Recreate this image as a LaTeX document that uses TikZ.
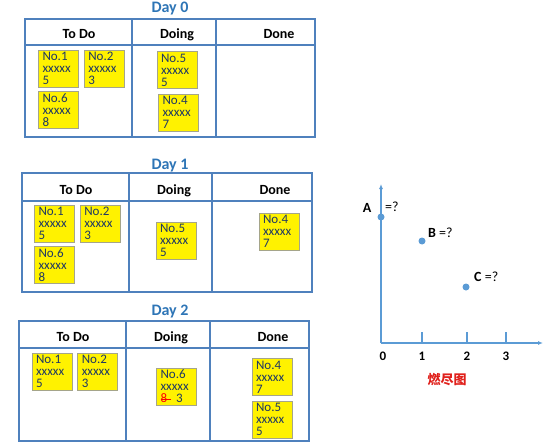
\documentclass[tikz,border=0pt]{standalone}
\usepackage{fontspec}
\setmainfont{Carlito}
\newfontfamily\cjk{Noto Sans CJK SC}
\usetikzlibrary{arrows.meta, positioning, calc}
\definecolor{boardblue}{HTML}{4F81BD}
\definecolor{titleblue}{HTML}{2E75B6}
\definecolor{dotblue}{HTML}{5B9BD5}
\definecolor{cardtext}{HTML}{1F3864}
\definecolor{cardedge}{HTML}{A5A58A}
\definecolor{chartred}{HTML}{E0201B}
\newcommand{\crossed}[1]{\leavevmode{\color{red}\rlap{\rule[0.28em]{0.8em}{0.7pt}}#1}}
\tikzset{
  board/.style={draw=boardblue, line width=1.6pt},
  daytitle/.style={font=\fontsize{16}{18}\selectfont\bfseries, text=titleblue,
    inner sep=0pt, anchor=base},
  colhead/.style={font=\fontsize{14}{16}\selectfont\bfseries, inner sep=0pt, anchor=base},
  card/.style={
    rectangle, draw=cardedge, line width=0.8pt, fill=yellow,
    minimum width=40pt, minimum height=37pt,
    text width=32pt, inner xsep=4pt, inner ysep=0pt,
    align=left, text=cardtext, font=\fontsize{13}{12}\selectfont
  },
  axis/.style={draw=dotblue, line width=1.4pt, -{Latex[length=5pt,width=4pt]}},
  axtick/.style={draw=dotblue, line width=1.4pt},
  dot/.style={circle, fill=dotblue, minimum size=7pt, inner sep=0pt},
  ptlabel/.style={font=\fontsize{14}{16}\selectfont, inner sep=0pt},
  axnum/.style={font=\fontsize{13}{15}\selectfont\bfseries, inner sep=0pt}
}
\begin{document}
\begin{tikzpicture}[x=1pt, y=-1pt]
\useasboundingbox (0,0) rectangle (554,444);

% boards
\foreach \d/\l/\t/\r/\b/\h/\ca/\cb/\ty in {0/25/19/315/137/45/132/216/12.5,
    1/22/173/312/292/201/129/212/169, 2/19/321/309/441/348/126/210/315} {
  \draw[board] (\l,\t) rectangle (\r,\b);
  \draw[board] (\l,\h) -- (\r,\h);
  \draw[board] (\ca,\t) -- (\ca,\b);
  \draw[board] (\cb,\t) -- (\cb,\b);
  \node[daytitle] (title\d) at (170,\ty) {Day \d};
  \node[colhead] (todo\d) at (\l+54,\h-6.5) {To Do};
  \node[colhead] (doing\d) at (\ca+45,\h-6.5) {Doing};
  \node[colhead] (done\d) at (\cb+63,\h-6.5) {Done};
}

% Day 0
\node[card] (c0n1) at (58.5,68.5) {No.1\\xxxxx\\5};
\node[card, right=5pt of c0n1] (c0n2) {No.2\\xxxxx\\3};
\node[card, below=4pt of c0n1] (c0n6) {No.6\\xxxxx\\8};
\node[card] (c0n5) at (177,70) {No.5\\xxxxx\\5};
\node[card, below=5pt of c0n5, xshift=1.5pt] (c0n4) {No.4\\xxxxx\\7};

% Day 1
\node[card] (c1n1) at (54.5,223.5) {No.1\\xxxxx\\5};
\node[card, right=5pt of c1n1] (c1n2) {No.2\\xxxxx\\3};
\node[card, below=4pt of c1n1] (c1n6) {No.6\\xxxxx\\8};
\node[card] (c1n5) at (176,240.5) {No.5\\xxxxx\\5};
\node[card] (c1n4) at (279,231.5) {No.4\\xxxxx\\7};

% Day 2
\node[card] (c2n1) at (52,371.5) {No.1\\xxxxx\\5};
\node[card, right=5pt of c2n1] (c2n2) {No.2\\xxxxx\\3};
\node[card] (c2n6) at (176.5,386.5) {No.6\\xxxxx\\\crossed{8}\hspace{9pt}3};
\node[card] (c2n4) at (272,377) {No.4\\xxxxx\\7};
\node[card, below=5pt of c2n4] (c2n5) {No.5\\xxxxx\\5};

% burndown chart
\coordinate (origin) at (381,343);
\coordinate (ytop) at (381,184);
\coordinate (xend) at (543,343);
\draw[axis] (origin) -- (ytop);
\draw[axis] (origin) -- (xend);
\foreach \x in {422,467,506}
  \draw[axtick] (\x,332) -- (\x,343);
\foreach \x/\n in {383/0,422/1,467/2,506/3}
  \node[axnum] (num\n) at (\x,356) {\n};

\node[dot] (ptA) at (381,217) {};
\node[dot] (ptB) at (422,241) {};
\node[dot] (ptC) at (466,287) {};
\node[ptlabel] (labA) at (367,208) {\textbf{A}};
\node[ptlabel, anchor=west] (eqA) at (385,207) {=?};
\node[ptlabel, anchor=west] (labB) at (428,233) {\textbf{B} =?};
\node[ptlabel, anchor=west] (labC) at (474,277) {\textbf{C} =?};
\node[font={\cjk\bfseries\fontsize{13}{15}\selectfont}, text=chartred, inner sep=0pt] (burn) at (447,380) {燃尽图};

\end{tikzpicture}
\end{document}
